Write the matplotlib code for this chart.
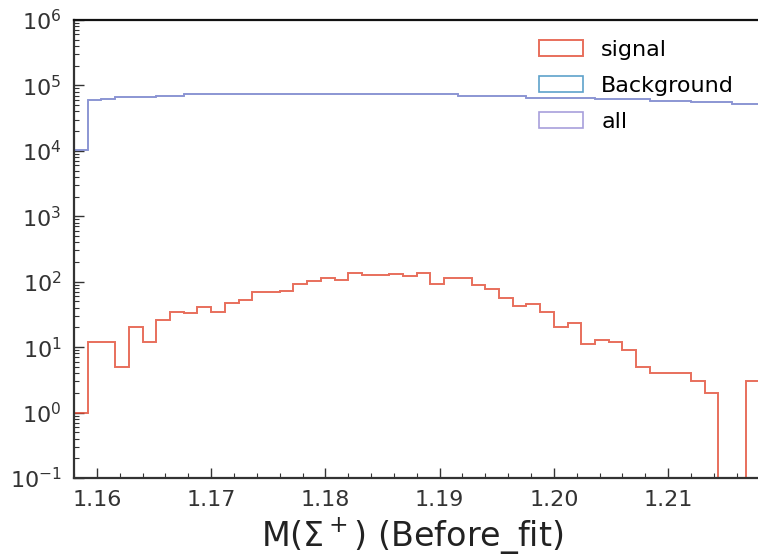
import numpy as np
import matplotlib.pyplot as plt
from matplotlib.ticker import MultipleLocator, LogLocator, NullFormatter

# --- binning of M(Sigma+) ---
m_lo, m_hi, n_bins = 1.158, 1.218, 50

# --- counts ---
signal_counts = [1, 12, 12, 5, 20, 12, 26, 35, 33, 41,
                 34, 48, 53, 69, 69, 73, 93, 102, 113, 107,
                 135, 127, 127, 133, 121, 135, 93, 115, 115, 88,
                 78, 56, 43, 46, 35, 20, 23, 11, 13, 12,
                 9, 5, 4, 4, 4, 3, 2, 0, 0, 3]

all_counts = [10400, 59000, 62000, 65600, 65600, 65600, 68700, 68700, 72800, 72800,
              72800, 72800, 72800, 72800, 72800, 72800, 72800, 72800, 72800, 72800,
              72800, 72800, 72800, 72800, 72800, 72800, 72800, 72800, 68600, 68600,
              68600, 68600, 68600, 64900, 64900, 64900, 64900, 64900, 61100, 61100,
              61100, 61100, 57500, 57500, 57500, 55600, 55600, 55600, 52500, 52500]

labels = ['signal', 'Background', 'all']
colors = ['#E24A33', '#348ABD', '#988ED5']

edges = np.linspace(m_lo, m_hi, n_bins + 1)
centers = 0.5 * (edges[:-1] + edges[1:])
signal = np.array(signal_counts, dtype=float)
total = np.array(all_counts, dtype=float)
background = total - signal

fig = plt.figure(figsize=(7.58, 5.58), dpi=100)
# right edge pushed a bit past the canvas: the original picture is cut there
ax = fig.add_axes([0.0976, 0.1434, 0.9045, 0.8208])
ax.set_yscale('log')

ax.hist(centers, bins=edges, weights=signal, histtype='step',
        color=colors[0], lw=1.4, alpha=0.8, label=labels[0])
ax.hist(centers, bins=edges, weights=background, histtype='step',
        color=colors[1], lw=1.2, alpha=0.8, label=labels[1])
ax.hist(centers, bins=edges, weights=total, histtype='step',
        color=colors[2], lw=1.2, alpha=0.85, label=labels[2])

ax.set_xlim(m_lo, m_hi)
ax.set_ylim(0.1, 1e6)
ax.xaxis.set_minor_locator(MultipleLocator(0.002))
ax.yaxis.set_major_locator(LogLocator(base=10, numticks=10))
ax.yaxis.set_minor_locator(LogLocator(base=10, subs=np.arange(2, 10), numticks=20))
ax.yaxis.set_minor_formatter(NullFormatter())
ax.set_xticks([1.16, 1.17, 1.18, 1.19, 1.20, 1.21])
ax.set_xticklabels(['1.16', '1.17', '1.18', '1.19', '1.20', '1.21'])

ax.tick_params(which='both', direction='in', colors='#333333', labelcolor='#333333')
ax.tick_params(which='major', length=7, width=1, labelsize=16, pad=9)
ax.tick_params(which='minor', length=3.5, width=0.8)

for side in ['left', 'bottom']:
    ax.spines[side].set_color('#333333')
    ax.spines[side].set_linewidth(1.6)
ax.spines['top'].set_color('#111111')
ax.spines['top'].set_linewidth(1.6)

ax.set_xlabel(r'M($\Sigma^+$) (Before_fit)', fontsize=24, color='#222222', labelpad=4)
ax.xaxis.label.set_x(0.493)
ax.legend(loc='upper right', frameon=False, fontsize=16, labelspacing=0.72,
          bbox_to_anchor=(0.992, 1.0))

fig.savefig('out.png', dpi=100)
